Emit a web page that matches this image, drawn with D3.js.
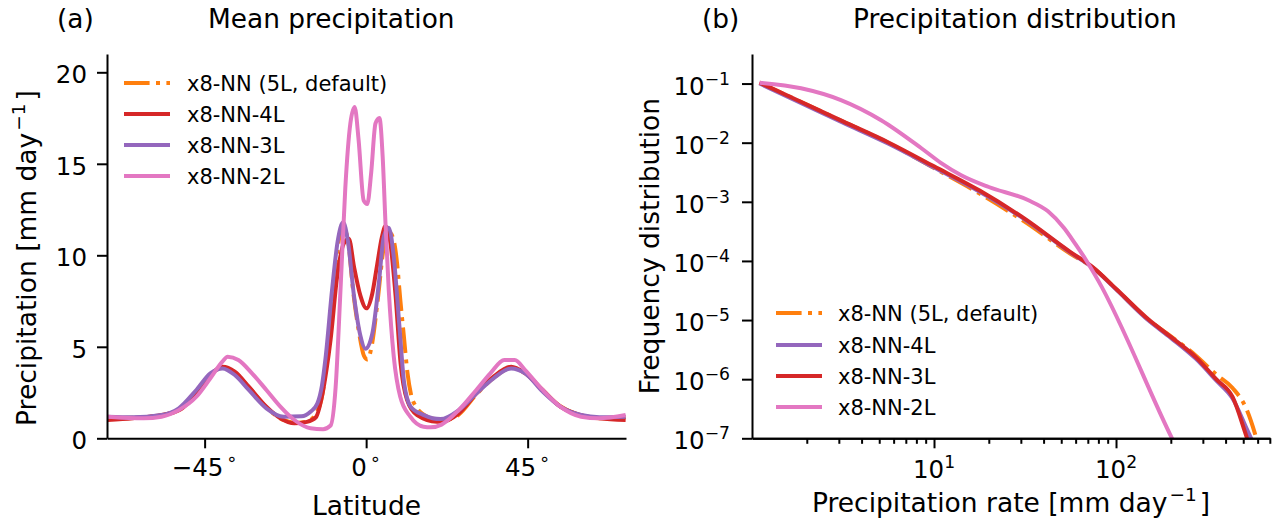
<!DOCTYPE html>
<html><head><meta charset="utf-8">
<script src="https://cdn.jsdelivr.net/npm/d3@7"></script>
<style>
body{margin:0;background:#fff}
svg{display:block}
text{font-family:"DejaVu Sans",sans-serif;fill:#000}
</style>
</head><body>
<svg id="c" width="1278" height="531"></svg>
<script>
// ---------- Panel (a): mean precipitation vs latitude ----------
const leftNames = ["x8-NN (5L, default)", "x8-NN-4L", "x8-NN-3L", "x8-NN-2L"];
const latTicks = [-45, 0, 45];
const precipTicks = [0, 5, 10, 15, 20];

const latDefault = [-72,-65,-57,-52,-47.3,-43.4,-40,-36.6,-32.7,-27.8,-23,-19,-16,-14,-12.5,-11.3,-10,-8.5,-6.6,-5.2,-3.6,-2,-0.6,0.4,1.5,3.2,4.8,6.3,7.7,8.6,9.5,10.5,11.5,12.5,14,16,19,22,25.8,30.7,35.5,40.4,44.3,49.2,54.1,59.9,65,72.3];
const precipDefault = [1.1,1.12,1.25,1.6,2.55,3.5,3.85,3.6,2.8,1.7,1.0,0.85,0.95,1.35,2.1,3.6,6.2,9.5,11.5,11.0,8.0,5.8,4.5,4.3,5.0,7.5,10.3,11.3,10.8,9.6,7.6,5.6,3.6,2.4,1.7,1.3,1.05,1.0,1.3,2.4,3.3,3.85,3.6,2.6,1.75,1.25,1.1,1.15];

const lat4L = [-72,-65,-57,-52,-47.3,-43.4,-40,-36.6,-32.7,-27.8,-23.9,-20,-16.5,-14,-12.2,-11,-9.9,-8.1,-6.2,-4.8,-3.4,-1.6,0.1,1.7,3.0,4.4,5.4,6.8,8.2,9.6,11.4,14.2,19.7,21,25.8,30.7,35.5,40.4,44.3,49.2,54.1,59.9,65,72.3];
const precip4L = [1.0,1.1,1.27,1.54,2.45,3.46,3.91,3.64,2.82,1.73,1.09,0.82,0.9,1.15,2.4,3.8,5.4,8.8,10.65,10.9,9.4,7.8,7.1,7.9,9.4,11.0,11.6,10.6,7.8,4.1,2.1,1.27,0.91,0.91,1.36,2.45,3.37,3.91,3.55,2.64,1.73,1.27,1.1,1.0];

const lat3L = [-72,-65,-57,-52.2,-47.3,-43.4,-40,-36.6,-32.7,-27.8,-23,-18,-15.5,-13.6,-12.3,-11.3,-9.5,-7.9,-6.4,-5.1,-3.4,-1.6,-0.2,1.7,3.5,4.9,6.3,7.7,9.2,10.6,12.4,16.1,20.7,25.8,30.7,35.5,40.4,44.3,49.2,54.1,59.9,65,72.3];
const precip3L = [1.18,1.15,1.27,1.64,2.64,3.55,3.82,3.46,2.64,1.64,1.18,1.2,1.45,1.9,2.9,4.4,8.1,10.8,11.8,10.8,7.8,5.6,4.9,5.7,8.4,11.0,11.5,9.9,6.3,3.0,1.73,1.27,1.05,1.54,2.45,3.28,3.82,3.55,2.55,1.73,1.27,1.15,1.18];

const lat2L = [-72,-62,-57,-52.2,-47.3,-43.4,-40,-38.6,-35.6,-31.8,-27.8,-23.9,-20,-15.5,-12,-9.9,-8.5,-7.1,-5.8,-4.4,-3.2,-2.1,-0.7,0.3,1.4,2.6,3.7,4.6,5.4,6.3,7.7,9.5,12.3,16,18,21,25.8,30.7,34.6,38.5,41.4,44.3,49.2,54.1,59.9,64.8,72.3];
const precip2L = [1.18,1.09,1.18,1.54,2.27,3.28,4.2,4.46,4.28,3.55,2.64,1.73,1.0,0.55,0.5,0.7,2.8,8.3,13.7,17.2,18.1,16.3,13.0,12.8,14.5,17.2,17.5,15.4,11.7,8.1,4.46,2.27,1.18,0.63,0.6,0.75,1.54,2.64,3.55,4.28,4.28,3.73,2.64,1.73,1.18,1.09,1.27];

// ---------- Panel (b): precipitation distribution ----------
const rightNames = ["x8-NN (5L, default)", "x8-NN-4L", "x8-NN-3L", "x8-NN-2L"];
const freqTickExps = [-1,-2,-3,-4,-5,-6,-7];
const rateTickExps = [1, 2];

const rateDefault = [1.1,1.78,3.16,5.62,10,17.8,31.6,56.2,74.1,100,151,200,275,355,437,525,580,603];
const freqDefault = [0.1035,0.052,0.0228,0.0099,0.00372,0.00138,4.57e-4,1.32e-4,7.8e-5,3.35e-5,1.0e-5,5.3e-6,2.5e-6,1.2e-6,7.1e-7,2.95e-7,1.2e-7,7.9e-8];

const rate4L = [1.1,1.78,3.16,5.62,10,17.8,31.6,56.2,74.1,100,151,200,275,355,437,525,582];
const freq4L = [0.1,0.05,0.0218,0.0096,0.0038,0.00148,5.0e-4,1.38e-4,7.8e-5,3.3e-5,9.8e-6,5.0e-6,2.2e-6,9.5e-7,4.7e-7,1.4e-7,7e-8];

const rate3L = [1.1,1.78,3.16,5.62,10,17.8,31.6,56.2,74.1,100,151,200,275,355,437,525,562];
const freq3L = [0.1035,0.0521,0.0229,0.0101,0.00398,0.00155,5.13e-4,1.41e-4,7.94e-5,3.39e-5,1.02e-5,5.2e-6,2.34e-6,1.0e-6,5.0e-7,1.0e-7,5.5e-8];

const rate2L = [1.1,1.86,3.08,5.12,8.49,10.9,14.1,20.0,32.8,42.3,51.8,60,67.6,80,203,251];
const freq2L = [0.1035,0.0832,0.0525,0.024,0.00813,0.00457,0.00282,0.00178,0.00107,6.9e-4,3.6e-4,1.9e-4,1.1e-4,4.6e-5,1e-7,2.7e-8];

const colors = ["#ff7f0e", "#d62728", "#9467bd", "#e377c2"];
const colorsRight = ["#ff7f0e", "#9467bd", "#d62728", "#e377c2"];

// ---------- drawing ----------
const svg = d3.select("#c");
const LW = 4, TICK_FS = 24.5, LAB_FS = 26.5, TITLE_FS = 26.4, LEG_FS = 21;
const dash = "25.6,6.4,4,6.4";

const L = {x0:107, x1:626, y0:54, y1:438.3};
const R = {x0:752, x1:1270, y0:54, y1:438.3};

const xL = d3.scaleLinear().domain([-72.2, 72.4]).range([L.x0, L.x1]);
const yL = d3.scaleLinear().domain([0, 21]).range([L.y1, L.y0]);
const xR = d3.scaleLog().domain([1, 701.5]).range([R.x0, R.x1]);
const yR = d3.scaleLog().domain([1e-7, Math.pow(10, -0.5)]).range([R.y1, R.y0]);

const defs = svg.append("defs");
defs.append("clipPath").attr("id","clipL").append("rect")
  .attr("x",L.x0).attr("y",L.y0).attr("width",L.x1-L.x0).attr("height",L.y1-L.y0);
defs.append("clipPath").attr("id","clipR").append("rect")
  .attr("x",R.x0).attr("y",R.y0).attr("width",R.x1-R.x0).attr("height",R.y1-R.y0);

function zip(a,b){ return a.map((v,i)=>[v,b[i]]); }

const leftSeries = [
  {name:leftNames[0], color:colors[0], dashed:true, pts:zip(latDefault,precipDefault)},
  {name:leftNames[1], color:colors[1], pts:zip(lat4L,precip4L)},
  {name:leftNames[2], color:colors[2], pts:zip(lat3L,precip3L)},
  {name:leftNames[3], color:colors[3], pts:zip(lat2L,precip2L)}
];
const rightSeries = [
  {name:rightNames[0], color:colorsRight[0], dashed:true, pts:zip(rateDefault,freqDefault)},
  {name:rightNames[1], color:colorsRight[1], pts:zip(rate4L,freq4L)},
  {name:rightNames[2], color:colorsRight[2], pts:zip(rate3L,freq3L)},
  {name:rightNames[3], color:colorsRight[3], pts:zip(rate2L,freq2L)}
];

// curves
const lineL = d3.line().x(d=>xL(d[0])).y(d=>yL(d[1])).curve(d3.curveMonotoneX);
const lineR = d3.line().x(d=>xR(d[0])).y(d=>yR(d[1])).curve(d3.curveMonotoneX);

function drawSeries(series, line, clip){
  const g = svg.append("g").attr("clip-path", `url(#${clip})`);
  series.forEach(s=>{
    g.append("path").attr("d", line(s.pts)).attr("fill","none")
      .attr("stroke", s.color).attr("stroke-width", LW)
      .attr("stroke-linejoin","round")
      .attr("stroke-dasharray", s.dashed ? dash : null);
  });
}
drawSeries(leftSeries, lineL, "clipL");
drawSeries(rightSeries, lineR, "clipR");

// axes
function styleAxis(g){
  g.selectAll("path.domain").attr("stroke","#000").attr("stroke-width",2);
  g.selectAll("line").attr("stroke","#000").attr("stroke-width",2);
  g.selectAll("text").remove();
}
svg.append("g").attr("transform",`translate(${L.x0},0)`)
  .call(d3.axisLeft(yL).tickValues(precipTicks).tickSize(10).tickSizeOuter(0).tickFormat(""))
  .call(styleAxis);
svg.append("g").attr("transform",`translate(0,${L.y1})`)
  .call(d3.axisBottom(xL).tickValues(latTicks).tickSize(10).tickSizeOuter(0).tickFormat(""))
  .call(styleAxis);

// right axes
svg.append("g").attr("transform",`translate(${R.x0},0)`)
  .call(d3.axisLeft(yR).tickValues(freqTickExps.map(e=>Math.pow(10,e))).tickSize(10).tickSizeOuter(0).tickFormat(""))
  .call(styleAxis);
const minorVals = [];
[1,10,100].forEach(b=>{ for(let k=2;k<=9;k++){ const v=b*k; if(v<=701.5) minorVals.push(v);} });
svg.append("g").attr("transform",`translate(0,${R.y1})`)
  .call(d3.axisBottom(xR).tickValues(minorVals).tickSize(5.5).tickSizeOuter(0).tickFormat(""))
  .call(styleAxis);
svg.append("g").attr("transform",`translate(0,${R.y1})`)
  .call(d3.axisBottom(xR).tickValues(rateTickExps.map(e=>Math.pow(10,e))).tickSize(10).tickSizeOuter(0).tickFormat(""))
  .call(styleAxis);

// tick labels (left)
precipTicks.forEach(v=>{
  svg.append("text").attr("x", L.x0-20).attr("y", yL(v)+11)
    .attr("text-anchor","end").attr("font-size",TICK_FS).text(v);
});
latTicks.forEach(v=>{
  const t = svg.append("text").attr("x", xL(v)).attr("y", L.y1+37.7)
    .attr("text-anchor","middle").attr("font-size",TICK_FS);
  t.append("tspan").text(v<0 ? "\u2212"+Math.abs(v) : String(v));
  t.append("tspan").attr("dx",3).attr("dy",-11).attr("font-size",18).text("\u2218");
});

// tick labels (right)
freqTickExps.forEach(e=>{
  const t = svg.append("text").attr("x", R.x0-22).attr("y", yR(Math.pow(10,e))+11)
    .attr("text-anchor","end").attr("font-size",TICK_FS);
  t.append("tspan").text("10");
  t.append("tspan").attr("dy",-10).attr("font-size",17.2).text("\u2212"+Math.abs(e));
});
rateTickExps.forEach(e=>{
  const t = svg.append("text").attr("x", xR(Math.pow(10,e))).attr("y", R.y1+40)
    .attr("text-anchor","middle").attr("font-size",TICK_FS);
  t.append("tspan").text("10");
  t.append("tspan").attr("dy",-10).attr("font-size",17.2).text(String(e));
});

// axis labels
function supLabel(x, y, rot, pre, sup, post, anchor){
  const t = svg.append("text").attr("font-size",LAB_FS).attr("text-anchor",anchor||"middle")
    .attr("transform", `translate(${x},${y}) rotate(${rot})`);
  t.append("tspan").text(pre);
  if (sup){
    t.append("tspan").attr("dx",2).attr("dy",-11).attr("font-size",18.5).text(sup);
    t.append("tspan").attr("dx",3).attr("dy",11).text(post);
  }
  return t;
}
supLabel((L.x0+L.x1)/2, 515, 0, "Latitude");
supLabel((R.x0+R.x1)/2, 511.7, 0, "Precipitation rate [mm day", "\u22121", "]");
supLabel(36, 258, -90, "Precipitation [mm day", "\u22121", "]");
supLabel(659, (R.y0+R.y1)/2, -90, "Frequency distribution");

// titles
svg.append("text").attr("x",57).attr("y",28.3).attr("font-size",TITLE_FS).text("(a)");
svg.append("text").attr("x",208).attr("y",28.3).attr("font-size",TITLE_FS).text("Mean precipitation");
svg.append("text").attr("x",702).attr("y",28.3).attr("font-size",TITLE_FS).text("(b)");
svg.append("text").attr("x",853).attr("y",28.3).attr("font-size",TITLE_FS).text("Precipitation distribution");

// legends
function legend(series, hx0, hx1, tx, rows){
  series.forEach((s,i)=>{
    svg.append("line").attr("x1",hx0).attr("x2",hx1).attr("y1",rows[i]).attr("y2",rows[i])
      .attr("stroke",s.color).attr("stroke-width",LW)
      .attr("stroke-dasharray", s.dashed ? dash : null);
    svg.append("text").attr("x",tx).attr("y",rows[i]+8).attr("font-size",LEG_FS).text(s.name);
  });
}
legend(leftSeries, 124, 170, 187, [83, 114, 145, 176]);
legend(rightSeries, 776, 822, 838, [313, 345, 376, 407]);
</script>
</body></html>
